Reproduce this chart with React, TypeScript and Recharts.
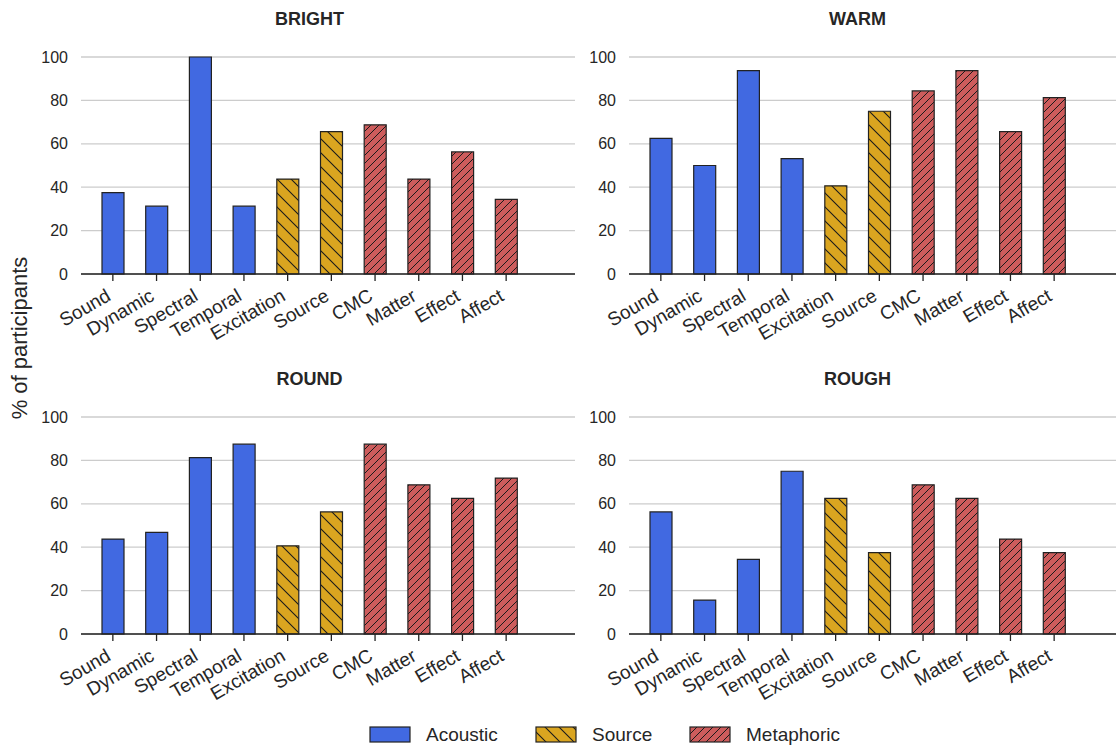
import { Bar, BarChart, CartesianGrid, Cell, XAxis, YAxis } from "recharts";

const FONT = '"Liberation Sans", Arial, Helvetica, sans-serif';
const TEXT = "#262626";
const EDGE = "#222222";

const categories = [
	"Sound",
	"Dynamic",
	"Spectral",
	"Temporal",
	"Excitation",
	"Source",
	"CMC",
	"Matter",
	"Effect",
	"Affect",
];

const categoryGroups = [
	"Acoustic",
	"Acoustic",
	"Acoustic",
	"Acoustic",
	"Source",
	"Source",
	"Metaphoric",
	"Metaphoric",
	"Metaphoric",
	"Metaphoric",
];

const brightValues = [37.5, 31.25, 100, 31.25, 43.75, 65.625, 68.75, 43.75, 56.25, 34.375];
const warmValues = [62.5, 50, 93.75, 53.125, 40.625, 75, 84.375, 93.75, 65.625, 81.25];
const roundValues = [43.75, 46.875, 81.25, 87.5, 40.625, 56.25, 87.5, 68.75, 62.5, 71.875];
const roughValues = [56.25, 15.625, 34.375, 75, 62.5, 37.5, 68.75, 62.5, 43.75, 37.5];

const yTicks = [0, 20, 40, 60, 80, 100];

const legendGroups = ["Acoustic", "Source", "Metaphoric"];

const groupFill: Record<string, string> = {
	Acoustic: "#4169E1",
	Source: "url(#hatch-source)",
	Metaphoric: "url(#hatch-metaphoric)",
};

function AngledTick(props: any) {
	const { x, y, payload } = props;
	const tx = x - 1;
	const ty = y + 16.5;
	return (
		<text
			x={tx}
			y={ty}
			textAnchor="end"
			fontSize={19}
			fontFamily={FONT}
			fill={TEXT}
			transform={`rotate(-30, ${tx}, ${ty})`}
		>
			{payload.value}
		</text>
	);
}

type PanelProps = {
	title: string;
	values: number[];
	left: number;
	top: number;
	width: number;
	height: number;
	padRight: number;
	marginRight: number;
	marginTop: number;
};

function Panel({
	title,
	values,
	left,
	top,
	width,
	height,
	padRight,
	marginRight,
	marginTop,
}: PanelProps) {
	const data = categories.map((name, i) => ({
		name,
		group: categoryGroups[i],
		value: values[i],
	}));
	const plotLeft = 81;
	const plotRight = width - marginRight;
	const titleCenter = plotLeft + 10 + (plotRight - plotLeft - 10 - padRight) / 2;

	return (
		<div style={{ position: "absolute", left, top, width, height }}>
			<div
				style={{
					position: "absolute",
					left: titleCenter - 100,
					width: 200,
					top: marginTop - 48,
					textAlign: "center",
					fontFamily: FONT,
					fontWeight: "bold",
					fontSize: 18,
					color: TEXT,
				}}
			>
				{title}
			</div>
			<BarChart
				width={width}
				height={height}
				data={data}
				margin={{ top: marginTop, right: marginRight, left: 41, bottom: 16 }}
			>
				<CartesianGrid vertical={false} stroke="#cccccc" strokeWidth={1.3} />
				<XAxis
					dataKey="name"
					interval={0}
					height={80}
					padding={{ left: 10, right: padRight }}
					axisLine={{ stroke: EDGE, strokeWidth: 1.5 }}
					tickLine={{ stroke: EDGE, strokeWidth: 1.3 }}
					tickSize={7}
					tickMargin={2}
					tick={<AngledTick />}
				/>
				<YAxis
					domain={[0, 100]}
					ticks={yTicks}
					width={40}
					axisLine={false}
					tickLine={false}
					tickSize={11}
					tickMargin={2}
					tick={{ fontSize: 16, fill: TEXT, fontFamily: FONT }}
				/>
				<Bar
					dataKey="value"
					barSize={22}
					stroke={EDGE}
					strokeWidth={1.2}
					isAnimationActive={false}
				>
					{data.map((d) => (
						<Cell key={d.name} fill={groupFill[d.group]} />
					))}
				</Bar>
			</BarChart>
		</div>
	);
}

export default function App() {
	const legendX = [370, 536, 690];

	return (
		<div
			style={{
				position: "absolute",
				left: 0,
				top: 0,
				width: 1116,
				height: 746,
				background: "#ffffff",
				overflow: "hidden",
			}}
		>
			<svg width={0} height={0} style={{ position: "absolute" }}>
				<defs>
					<pattern id="hatch-source" patternUnits="userSpaceOnUse" width={14} height={14}>
						<rect width={14} height={14} fill="#DAA520" />
						<path d="M0,0 L14,14 M-7,7 L7,21 M7,-7 L21,7" stroke="#1a1a1a" strokeWidth={1.1} />
					</pattern>
					<pattern id="hatch-metaphoric" patternUnits="userSpaceOnUse" width={8} height={8}>
						<rect width={8} height={8} fill="#CD5C5C" />
						<path d="M0,8 L8,0 M-4,4 L4,-4 M4,12 L12,4" stroke="#1a1a1a" strokeWidth={1} />
					</pattern>
				</defs>
			</svg>

			<Panel title="BRIGHT" values={brightValues} left={0} top={0} width={580} height={370} padRight={47} marginRight={5} marginTop={57} />
			<Panel title="WARM" values={warmValues} left={548} top={0} width={568} height={370} padRight={40} marginRight={0} marginTop={57} />
			<Panel title="ROUND" values={roundValues} left={0} top={390} width={580} height={340} padRight={47} marginRight={5} marginTop={27} />
			<Panel title="ROUGH" values={roughValues} left={548} top={390} width={568} height={340} padRight={40} marginRight={0} marginTop={27} />

			<svg
				width={1116}
				height={746}
				style={{ position: "absolute", left: 0, top: 0, pointerEvents: "none" }}
			>
				<text
					transform="translate(27, 338) rotate(-90)"
					textAnchor="middle"
					fontSize={22}
					fontFamily={FONT}
					fill={TEXT}
				>
					% of participants
				</text>
				{legendGroups.map((g, i) => (
					<g key={g}>
						<rect
							x={legendX[i]}
							y={727}
							width={40}
							height={15}
							fill={groupFill[g]}
							stroke={EDGE}
							strokeWidth={1.2}
						/>
						<text
							x={legendX[i] + 56}
							y={741}
							fontSize={19}
							fontFamily={FONT}
							fill={TEXT}
						>
							{g}
						</text>
					</g>
				))}
			</svg>
		</div>
	);
}
